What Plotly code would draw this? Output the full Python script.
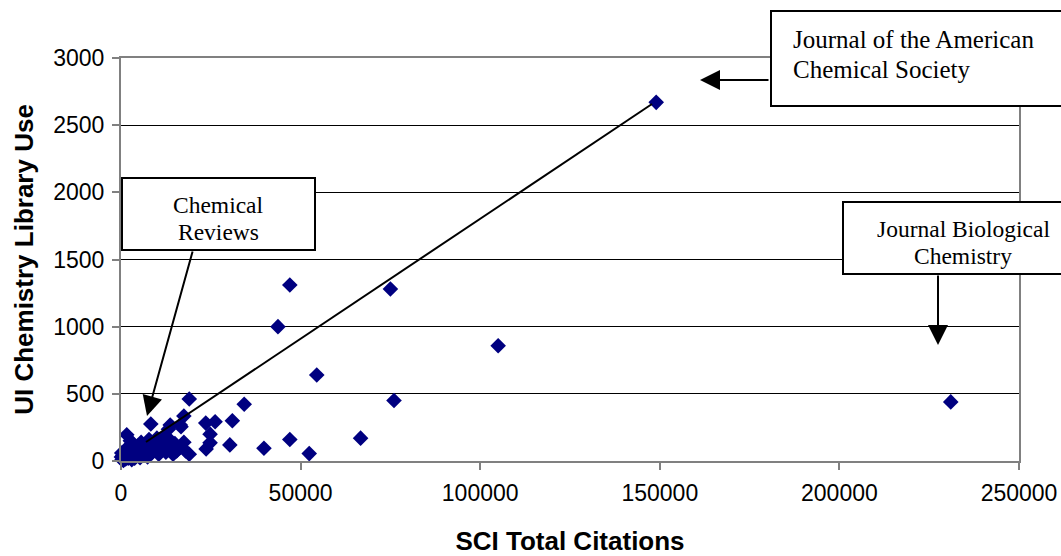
import plotly.graph_objects as go

# ---- data ----
sci_citations = [
    149000, 231000, 105000, 47000, 75000, 43700, 54500, 76000, 47000, 52400,
    66700, 39800, 34300, 31000, 30300, 26200, 23600, 24800, 24800, 23700,
    19000, 17500, 16700, 19000, 13200, 8300, 1600, 16500, 13700,
    300, 500, 700, 900, 1100, 1300, 1500, 1800, 2000, 2200,
    2500, 2800, 3000, 3200, 3500, 3800, 4000, 4300, 4600, 5000,
    5300, 5600, 6000, 6300, 6700, 7000, 7400, 7800, 8200, 8600,
    9000, 9500, 10000, 10500, 11000, 11500, 12000, 12500, 13000, 13500,
    14000, 14500, 15000, 15500, 16500, 17500, 18000, 200, 100, 2600,
]
library_use = [
    2670, 440, 858, 1310, 1280, 1000, 640, 450, 160, 55,
    170, 95, 422, 300, 120, 292, 282, 200, 135, 90,
    462, 335, 255, 50, 236, 275, 195, 268, 268,
    10, 40, 5, 25, 70, 15, 45, 100, 20, 60,
    35, 90, 10, 130, 55, 20, 80, 40, 110, 65,
    25, 140, 90, 45, 120, 70, 30, 160, 100, 60,
    140, 85, 170, 50, 130, 95, 180, 65, 120, 160,
    90, 50, 130, 75, 100, 140, 75, 60, 30, 150,
]

x_ticks = [0, 50000, 100000, 150000, 200000, 250000]
y_ticks = [0, 500, 1000, 1500, 2000, 2500, 3000]

x_title = "SCI Total Citations"
y_title = "UI Chemistry Library Use"
jacs_lines = ["Journal of the American", "Chemical Society"]
chemrev_lines = ["Chemical", "Reviews"]
jbc_lines = ["Journal Biological", "Chemistry"]

# ---- layout geometry (page pixels; body margin removed by post_script) ----
W, H = 1061, 556
L, R, T, B = 121, 1019, 58, 461          # plot area in pixels


def px(x):
    return (x - L) / (R - L)


def py(y):
    return (B - y) / (B - T)


fig = go.Figure()
fig.add_trace(go.Scatter(
    x=sci_citations, y=library_use, mode="markers",
    marker=dict(symbol="diamond", size=12, color="#000080",
                line=dict(width=0)),
    cliponaxis=False, showlegend=False, hoverinfo="skip",
))

serif = "Liberation Serif, Times New Roman, serif"
sans = "Liberation Sans, Arial, sans-serif"

shapes = []
# line from the cluster to JACS
shapes.append(dict(type="line", xref="paper", yref="paper",
                   x0=px(146), y0=py(442), x1=px(652), y1=py(104),
                   line=dict(color="black", width=2), layer="above"))
# boxes (the two on the right run past the figure edge)
for (x0, y0, x1, y1) in [(771, 11, 1120, 106), (122, 178, 315, 250), (843, 202, 1120, 274)]:
    shapes.append(dict(type="rect", xref="paper", yref="paper",
                       x0=px(x0), y0=py(y0), x1=px(x1), y1=py(y1),
                       line=dict(color="black", width=2), fillcolor="white",
                       layer="above"))

annotations = []
for txt, yc in zip(jacs_lines, [39, 69]):
    annotations.append(dict(xref="paper", yref="paper", x=px(791), y=py(yc),
                            xanchor="left", yanchor="middle", text=txt,
                            showarrow=False, font=dict(family=serif, size=25, color="black")))
for txt, yc in zip(chemrev_lines, [205, 232]):
    annotations.append(dict(xref="paper", yref="paper", x=px(218), y=py(yc),
                            xanchor="center", yanchor="middle", text=txt,
                            showarrow=False, font=dict(family=serif, size=23.5, color="black")))
for txt, yc in zip(jbc_lines, [229, 256]):
    annotations.append(dict(xref="paper", yref="paper", x=px(963), y=py(yc),
                            xanchor="center", yanchor="middle", text=txt,
                            showarrow=False, font=dict(family=serif, size=23.5, color="black")))
# arrows (tip at x,y ; tail offset ax,ay in pixels)
for (tx, ty, ax, ay) in [(700, 80, 70, 0), (147, 416, 46, -166), (938, 345, 0, -71)]:
    annotations.append(dict(xref="paper", yref="paper", x=px(tx), y=py(ty),
                            ax=ax, ay=ay, text="", showarrow=True,
                            arrowhead=2, arrowsize=2, arrowwidth=2,
                            arrowcolor="black", standoff=0))

fig.update_layout(
    width=W, height=H,
    margin=dict(l=L, r=W - R, t=T, b=H - B, pad=0, autoexpand=False),
    paper_bgcolor="white", plot_bgcolor="white",
    font=dict(family=sans, size=23, color="black"),
    shapes=shapes, annotations=annotations,
    xaxis=dict(range=[0, 250000], tickvals=x_ticks, tickformat="d",
               showgrid=False, zeroline=False, automargin=False,
               showline=True, linecolor="#808080", linewidth=2, mirror=True,
               ticks="outside", ticklen=7, tickwidth=2, tickcolor="#808080",
               ticklabelstandoff=3,
               tickfont=dict(family=sans, size=23),
               title=dict(text="<b>%s</b>" % x_title, standoff=30,
                          font=dict(family=sans, size=26))),
    yaxis=dict(range=[0, 3000], tickvals=y_ticks, automargin=False,
               showgrid=True, gridcolor="black", gridwidth=1, zeroline=False,
               showline=True, linecolor="#808080", linewidth=2, mirror=True,
               ticks="outside", ticklen=7, tickwidth=2, tickcolor="#808080",
               ticklabelstandoff=3,
               tickfont=dict(family=sans, size=23),
               title=dict(text="<b>%s</b>" % y_title, standoff=12,
                          font=dict(family=sans, size=26))),
)

fig.write_html("out.html",
               config={"displayModeBar": False, "staticPlot": True},
               post_script="document.body.style.margin='0px';"
                           "document.body.style.overflow='hidden';")
